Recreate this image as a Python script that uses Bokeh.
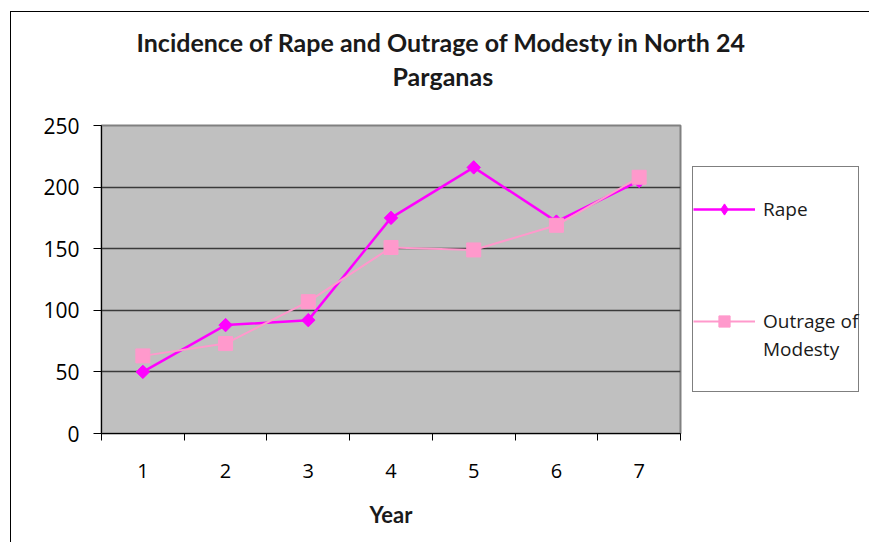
import math
from bokeh.plotting import figure
from bokeh.models import (FixedTicker, Legend, LegendItem, Title, Range1d)
from bokeh.embed import file_html
from bokeh.resources import INLINE

years = [1, 2, 3, 4, 5, 6, 7]
year_labels = ["1", "2", "3", "4", "5", "6", "7"]
rape = [50, 88, 92, 175, 216, 172, 205]
outrage = [63, 73, 107, 151, 149, 169, 208]
y_ticks = [0, 50, 100, 150, 200, 250]
title_lines = ["Incidence of Rape and Outrage of Modesty in North 24", "Parganas"]
legend_labels = ["Rape", "Outrage of", "Modesty"]

TICK_FONT = "Open Sans"
BOLD_FONT = "Lato"

p = figure(frame_width=579, frame_height=308, output_backend="svg", toolbar_location=None,
           x_range=Range1d(0.5, 7.5), y_range=Range1d(0, 250),
           min_border_left=90, min_border_right=150, min_border_top=113, min_border_bottom=109)
p.styles = {"border-left": "1px solid black", "border-top": "1px solid black",
            "margin-left": "10px", "margin-top": "11px"}
p.title = None
p.background_fill_color = "#C0C0C0"
p.border_fill_color = "white"
p.outline_line_color = "#808080"
p.outline_line_width = 2

# axes
p.xaxis.ticker = FixedTicker(ticks=years, minor_ticks=[0.5 + i for i in range(8)])
p.xaxis.major_label_overrides = {y: l for y, l in zip(years, year_labels)}
p.xaxis.major_tick_out = 0
p.xaxis.major_tick_in = 0
p.xaxis.minor_tick_out = 7
p.xaxis.minor_tick_in = 0
p.xaxis.minor_tick_line_color = "black"
p.xaxis.major_label_standoff = 23
p.xaxis.major_label_text_font = TICK_FONT
p.xaxis.major_label_text_font_size = "20px"
p.xaxis.major_label_text_color = "black"
p.xaxis.axis_label = "Year"
p.xaxis.axis_label_text_font = BOLD_FONT
p.xaxis.axis_label_text_font_style = "bold"
p.xaxis.axis_label_text_font_size = "22px"
p.xaxis.axis_label_standoff = 20
p.xaxis.axis_label_text_color = "#1a1a1a"
p.xaxis.axis_line_color = "black"

p.yaxis.ticker = FixedTicker(ticks=y_ticks, minor_ticks=[])
p.yaxis.major_tick_out = 8
p.yaxis.major_tick_in = 0
p.yaxis.major_tick_line_color = "black"
p.yaxis.major_label_standoff = 14
p.yaxis.major_label_text_font = TICK_FONT
p.yaxis.major_label_text_font_size = "21px"
p.yaxis.major_label_text_color = "black"
p.yaxis.axis_line_color = "black"

p.xgrid.grid_line_color = None
p.ygrid.grid_line_color = "#3a3a3a"
p.ygrid.grid_line_width = 1.5

# series
r1 = p.line(years, rape, line_color="#FF00FF", line_width=2.5)
r2_key = p.scatter(years, rape, marker="diamond", size=12,
                   fill_color="#FF00FF", line_color="#FF00FF")
r2 = p.scatter(years, rape, marker="square", angle=math.pi / 4, size=9.5,
               fill_color="#FF00FF", line_color="#FF00FF")
r3 = p.line(years, outrage, line_color="#FF99CC", line_width=2)
r4 = p.scatter(years, outrage, marker="square", size=14, fill_color="#FF99CC", line_color="#FF99CC")

items = [
    LegendItem(label=" ", renderers=[]),
    LegendItem(label=legend_labels[0], renderers=[r1, r2_key]),
    LegendItem(label=" ", renderers=[]),
    LegendItem(label=" ", renderers=[]),
    LegendItem(label=" ", renderers=[]),
    LegendItem(label=legend_labels[1], renderers=[r3, r4]),
    LegendItem(label=legend_labels[2], renderers=[]),
    LegendItem(label=" ", renderers=[]),
]
legend = Legend(items=items, location="center_left", orientation="vertical")
legend.border_line_color = "black"
legend.border_line_width = 1
legend.background_fill_color = "white"
legend.background_fill_alpha = 1
legend.label_text_font = TICK_FONT
legend.label_text_font_size = "19px"
legend.label_text_color = "#1a1a1a"
legend.glyph_width = 62
legend.glyph_height = 28
legend.label_height = 28
legend.label_standoff = 8
legend.padding = 0
legend.spacing = 0
legend.margin = 12
p.add_layout(legend, "right")

# title (two lines, stacked outward from the frame)
spacer = Title(text=" ", standoff=31, text_font_size="1px")
t2 = Title(text=title_lines[1], align="left", offset=291, standoff=2,
           text_font=BOLD_FONT, text_font_style="bold", text_font_size="25px", text_color="#1a1a1a")
t1 = Title(text=title_lines[0], align="left", offset=35, standoff=2,
           text_font=BOLD_FONT, text_font_style="bold", text_font_size="25px", text_color="#1a1a1a")
p.add_layout(spacer, "above")
p.add_layout(t2, "above")
p.add_layout(t1, "above")

open("out.html", "w").write(file_html(p, INLINE))
